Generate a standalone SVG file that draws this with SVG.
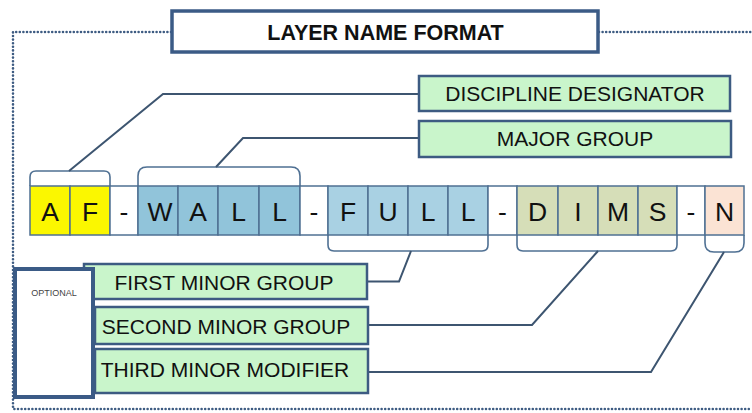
<svg xmlns="http://www.w3.org/2000/svg" width="752" height="413" viewBox="0 0 752 413">
<style>
.dot{fill:none;stroke:#3d5b82;stroke-width:2.6;stroke-dasharray:0 3.6;stroke-linecap:round}
.lbl{fill:#c9f5cb;stroke:#3d5b82;stroke-width:2.5}
.lt{font-family:"Liberation Sans",Arial,sans-serif;font-size:21px;fill:#111;text-anchor:middle}
.cell{stroke:#4f7093;stroke-width:1.5}
.ch{font-family:"Liberation Sans",Arial,sans-serif;font-size:26.5px;fill:#111;text-anchor:middle}
.br{fill:none;stroke:#4f7093;stroke-width:1.6}
.ld{fill:none;stroke:#3d5570;stroke-width:2}
</style>
<rect width="752" height="413" fill="#ffffff"/>
<g id="border">
<path class="dot" d="M171,32 H13 V409 H752"/>
<path class="dot" d="M599,32 H752"/>
</g>
<g id="title">
<rect x="172" y="11" width="426" height="41" fill="#ffffff" stroke="#3b5b86" stroke-width="3.5"/>
<text x="385.5" y="40" font-family="Liberation Sans,Arial,sans-serif" font-size="21.5" font-weight="bold" fill="#111" text-anchor="middle">LAYER NAME FORMAT</text>
</g>
<g id="name-row">
<rect class="cell" x="30" y="186" width="40" height="49" fill="#fbf700"/>
<rect class="cell" x="70" y="186" width="40" height="49" fill="#fbf700"/>
<rect class="cell" x="110" y="186" width="28" height="49" fill="#ffffff"/>
<rect class="cell" x="138" y="186" width="40" height="49" fill="#91c4da"/>
<rect class="cell" x="178" y="186" width="40" height="49" fill="#91c4da"/>
<rect class="cell" x="218" y="186" width="41" height="49" fill="#91c4da"/>
<rect class="cell" x="259" y="186" width="41" height="49" fill="#91c4da"/>
<rect class="cell" x="300" y="186" width="28" height="49" fill="#ffffff"/>
<rect class="cell" x="328" y="186" width="40" height="49" fill="#a9d1e3"/>
<rect class="cell" x="368" y="186" width="40" height="49" fill="#a9d1e3"/>
<rect class="cell" x="408" y="186" width="40" height="49" fill="#a9d1e3"/>
<rect class="cell" x="448" y="186" width="40" height="49" fill="#a9d1e3"/>
<rect class="cell" x="488" y="186" width="29" height="49" fill="#ffffff"/>
<rect class="cell" x="517" y="186" width="41" height="49" fill="#d6deb8"/>
<rect class="cell" x="558" y="186" width="40" height="49" fill="#d6deb8"/>
<rect class="cell" x="598" y="186" width="40" height="49" fill="#d6deb8"/>
<rect class="cell" x="638" y="186" width="39" height="49" fill="#d6deb8"/>
<rect class="cell" x="677" y="186" width="28" height="49" fill="#ffffff"/>
<rect class="cell" x="705" y="186" width="39" height="49" fill="#fbe3d4"/>
<text class="ch" x="50" y="221">A</text>
<text class="ch" x="90" y="221">F</text>
<text class="ch" x="124" y="221">-</text>
<text class="ch" x="160" y="221">W</text>
<text class="ch" x="198" y="221">A</text>
<text class="ch" x="238.5" y="221">L</text>
<text class="ch" x="279.5" y="221">L</text>
<text class="ch" x="314" y="221">-</text>
<text class="ch" x="348" y="221">F</text>
<text class="ch" x="388" y="221">U</text>
<text class="ch" x="428" y="221">L</text>
<text class="ch" x="468" y="221">L</text>
<text class="ch" x="502.5" y="221">-</text>
<text class="ch" x="537.5" y="221">D</text>
<text class="ch" x="578" y="221">I</text>
<text class="ch" x="618" y="221">M</text>
<text class="ch" x="657.5" y="221">S</text>
<text class="ch" x="691" y="221">-</text>
<text class="ch" x="724.5" y="221">N</text>
</g>
<g id="brackets">
<path class="br" d="M30,186 V177 Q30,171 36,171 H104 Q110,171 110,177 V186"/>
<path class="br" d="M138,186 V176 Q138,167 147,167 H291 Q300,167 300,176 V186"/>
<path class="br" d="M328,235 V245 Q328,251 334,251 H482 Q488,251 488,245 V235"/>
<path class="br" d="M517,235 V245 Q517,251 523,251 H671 Q677,251 677,245 V235"/>
<path class="br" d="M705,235 V243 Q705,252 714,252 H735 Q744,252 744,243 V235"/>
</g>
<g id="connectors">
<path class="ld" d="M69,171 L163,94 H419"/>
<path class="ld" d="M216,167 L243,138 H419"/>
<path class="ld" d="M411,251 L399,281.5 H367"/>
<path class="ld" d="M598,251 L532,325 H368"/>
<path class="ld" d="M724,252 L651,372 H368"/>
</g>
<g id="discipline-designator">
<rect class="lbl" x="419" y="76" width="311" height="35"/>
<text class="lt" x="575" y="101">DISCIPLINE DESIGNATOR</text>
</g>
<g id="major-group">
<rect class="lbl" x="419" y="121" width="312" height="36"/>
<text class="lt" x="575" y="146">MAJOR GROUP</text>
</g>
<g id="first-minor-group">
<rect class="lbl" x="84" y="264" width="283" height="35"/>
<text class="lt" x="224" y="290">FIRST MINOR GROUP</text>
</g>
<g id="second-minor-group">
<rect class="lbl" x="95" y="307" width="273" height="37"/>
<text class="lt" x="226" y="334">SECOND MINOR GROUP</text>
</g>
<g id="third-minor-modifier">
<rect class="lbl" x="95" y="349" width="273" height="44"/>
<text class="lt" x="225" y="377">THIRD MINOR MODIFIER</text>
</g>
<g id="optional">
<rect x="15" y="269" width="78" height="128" fill="#ffffff" stroke="#3b5b86" stroke-width="4"/>
<text x="54" y="296" font-family="Liberation Sans,Arial,sans-serif" font-size="9" fill="#444" text-anchor="middle">OPTIONAL</text>
</g>
</svg>
